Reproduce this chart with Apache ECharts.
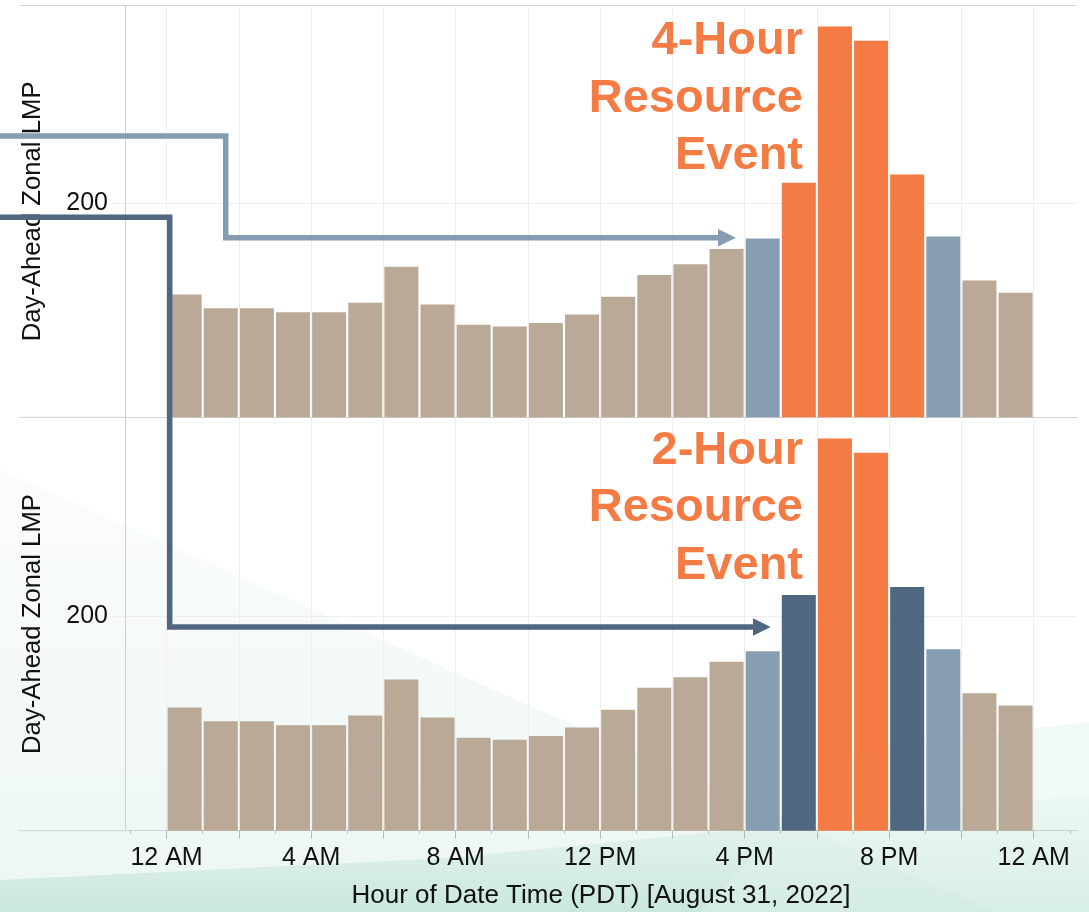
<!DOCTYPE html>
<html>
<head>
<meta charset="utf-8">
<script src="https://cdn.jsdelivr.net/npm/echarts@6/dist/echarts.min.js"></script>
<style>
  html, body { margin: 0; padding: 0; background: #ffffff; }
  #chart { width: 1089px; height: 912px; }
</style>
</head>
<body>
<div id="chart"></div>
<script>
// Hour buckets of August 31, 2022 (0 = 12 AM)
const hours = [0, 1, 2, 3, 4, 5, 6, 7, 8, 9, 10, 11, 12, 13, 14, 15, 16, 17, 18, 19, 20, 21, 22, 23];

// Day-ahead zonal LMP per hour
const lmp = [114.7, 102.0, 102.0, 98.2, 98.2, 107.2, 140.8, 105.5, 86.5, 84.8, 88.2, 96.0,
             112.7, 133.1, 143.0, 157.4, 167.2, 219.4, 365.3, 352.0, 227.0, 169.1, 128.0, 116.5];

// Hour classes for the 4-hour resource event panel
const fourHourClass = ['base', 'base', 'base', 'base', 'base', 'base', 'base', 'base',
                       'base', 'base', 'base', 'base', 'base', 'base', 'base', 'base',
                       'shoulder', 'event', 'event', 'event', 'event', 'shoulder', 'base', 'base'];

// Hour classes for the 2-hour resource event panel
const twoHourClass = ['base', 'base', 'base', 'base', 'base', 'base', 'base', 'base',
                      'base', 'base', 'base', 'base', 'base', 'base', 'base', 'base',
                      'shoulder', 'adjacent', 'event', 'event', 'adjacent', 'shoulder', 'base', 'base'];

// Axis ticks
const tickHours = [0, 4, 8, 12, 16, 20, 24];
const tickLabels = ['12 AM', '4 AM', '8 AM', '12 PM', '4 PM', '8 PM', '12 AM'];
const majorTickHours = [0, 2, 4, 6, 8, 10, 12, 14, 16, 18, 20, 22, 24];
const minorTickHours = [-1, 1, 3, 5, 7, 9, 11, 13, 15, 17, 19, 21, 23, 25];
const yTickValues = [200];

const classColor = {
  base: '#b9a996',
  shoulder: '#879db1',
  adjacent: '#4f6880',
  event: '#f47b44'
};

const FONT = '"Liberation Sans", Arial, sans-serif';
const X_MIN = -1.15, X_MAX = 25.2;
const Y_MAX = 385;
const GRID_LINE = '#efefef';
const BORDER = '#d0d0d0';

function barData(classes) {
  return hours.map((h, i) => ({
    value: [h + 0.5, lmp[i]],
    itemStyle: { color: classColor[classes[i]] }
  }));
}

const labelFor = {};
tickHours.forEach((h, i) => { labelFor[h] = tickLabels[i]; });

function yAxisFor(gridIndex) {
  return {
    type: 'value', gridIndex: gridIndex, min: 0, max: Y_MAX,
    name: 'Day-Ahead Zonal LMP', nameLocation: 'middle', nameGap: 79,
    nameTextStyle: { fontFamily: FONT, fontSize: 25.7, color: '#111111' },
    axisLine: { show: true, onZero: false, lineStyle: { color: BORDER, width: 1 } },
    axisTick: { show: true, customValues: yTickValues, length: 11, lineStyle: { color: GRID_LINE } },
    axisLabel: { customValues: yTickValues, margin: 17, fontFamily: FONT, fontSize: 25, color: '#111111' },
    splitLine: { show: true, lineStyle: { color: GRID_LINE, width: 1 } }
  };
}

const chart = echarts.init(document.getElementById('chart'), null, { renderer: 'canvas' });

const option = {
  backgroundColor: 'transparent',
  animation: false,
  grid: [
    { left: 125, right: 12, top: 5.5, height: 411.8 },
    { left: 125, right: 12, top: 417.3, height: 413.4 }
  ],
  xAxis: [
    {
      type: 'value', gridIndex: 0, position: 'bottom', min: X_MIN, max: X_MAX,
      axisLine: { show: true, onZero: false, lineStyle: { color: BORDER } },
      axisTick: { show: false, customValues: majorTickHours },
      axisLabel: { show: false },
      splitLine: { show: true, lineStyle: { color: GRID_LINE } }
    },
    {
      type: 'value', gridIndex: 1, position: 'bottom', min: X_MIN, max: X_MAX,
      name: 'Hour of Date Time (PDT) [August 31, 2022]',
      nameLocation: 'middle', nameGap: 52,
      nameTextStyle: { fontFamily: FONT, fontSize: 26, color: '#111111' },
      axisLine: { show: true, onZero: false, lineStyle: { color: BORDER } },
      axisTick: { show: true, customValues: majorTickHours, length: 8, lineStyle: { color: '#b8b8b8' } },
      axisLabel: {
        customValues: tickHours, margin: 15,
        fontFamily: FONT, fontSize: 25, color: '#111111',
        formatter: v => labelFor[v]
      },
      splitLine: { show: true, lineStyle: { color: GRID_LINE } }
    },
    {
      type: 'value', gridIndex: 1, position: 'bottom', offset: 0, min: X_MIN, max: X_MAX,
      axisLine: { show: false, onZero: false },
      axisTick: { show: true, customValues: minorTickHours, length: 3, lineStyle: { color: '#b8b8b8' } },
      axisLabel: { show: false },
      splitLine: { show: false }
    }
  ],
  yAxis: [yAxisFor(0), yAxisFor(1)],
  series: [
    {
      name: '4-Hour Resource Event', type: 'bar', xAxisIndex: 0, yAxisIndex: 0,
      barWidth: 34, data: barData(fourHourClass)
    },
    {
      name: '2-Hour Resource Event', type: 'bar', xAxisIndex: 1, yAxisIndex: 1,
      barWidth: 34, data: barData(twoHourClass)
    }
  ],
  graphic: [
    // soft slide backdrop shapes
    {
      type: 'polygon', z: -10, silent: true,
      shape: { points: [[0, 470], [994, 912], [0, 912]] },
      style: {
        fill: new echarts.graphic.LinearGradient(0, 0, 0, 1, [
          { offset: 0, color: 'rgba(228,241,239,0.18)' },
          { offset: 1, color: 'rgba(212,235,229,0.45)' }
        ])
      }
    },
    {
      type: 'polygon', z: -9, silent: true,
      shape: { points: [[0, 880], [450, 858], [1089, 795], [1089, 912], [0, 912]] },
      style: {
        fill: new echarts.graphic.LinearGradient(0, 0, 0, 1, [
          { offset: 0, color: 'rgba(208,234,226,0.2)' },
          { offset: 1, color: 'rgba(186,224,214,0.7)' }
        ])
      }
    },
    {
      type: 'polygon', z: -9, silent: true,
      shape: { points: [[860, 748], [1089, 722], [1089, 912], [700, 912]] },
      style: { fill: 'rgba(225,243,232,0.45)' }
    },
    // pane borders
    { type: 'line', z: 5, silent: true, shape: { x1: 19, y1: 5.5, x2: 1077, y2: 5.5 }, style: { stroke: BORDER, lineWidth: 1 } },
    { type: 'line', z: 5, silent: true, shape: { x1: 19, y1: 417.3, x2: 125, y2: 417.3 }, style: { stroke: BORDER, lineWidth: 1 } },
    { type: 'line', z: 5, silent: true, shape: { x1: 19, y1: 830.7, x2: 125, y2: 830.7 }, style: { stroke: BORDER, lineWidth: 1 } },
    // connector arrows
    {
      type: 'polyline', z: 20, silent: true,
      shape: { points: [[0, 136], [225.7, 136], [225.7, 237.7], [720, 237.7]] },
      style: { stroke: '#859db2', lineWidth: 5.5, fill: null, lineJoin: 'miter' }
    },
    {
      type: 'polygon', z: 20, silent: true,
      shape: { points: [[718, 229], [736, 237.7], [718, 246.4]] },
      style: { fill: '#859db2' }
    },
    {
      type: 'polyline', z: 20, silent: true,
      shape: { points: [[0, 217.3], [169.7, 217.3], [169.7, 627], [755, 627]] },
      style: { stroke: '#4f6880', lineWidth: 5.5, fill: null, lineJoin: 'miter' }
    },
    {
      type: 'polygon', z: 20, silent: true,
      shape: { points: [[753, 618.3], [770.7, 627], [753, 635.7]] },
      style: { fill: '#4f6880' }
    },
    // event annotations
    {
      type: 'text', z: 20, silent: true, x: 803, y: 99,
      style: {
        text: '4-Hour\nResource\nEvent', fill: '#f47b44',
        font: 'bold 47px ' + FONT, lineHeight: 57.5,
        align: 'right', verticalAlign: 'middle'
      }
    },
    {
      type: 'text', z: 20, silent: true, x: 803, y: 508.5,
      style: {
        text: '2-Hour\nResource\nEvent', fill: '#f47b44',
        font: 'bold 47px ' + FONT, lineHeight: 57.5,
        align: 'right', verticalAlign: 'middle'
      }
    }
  ]
};

chart.setOption(option);
</script>
</body>
</html>
